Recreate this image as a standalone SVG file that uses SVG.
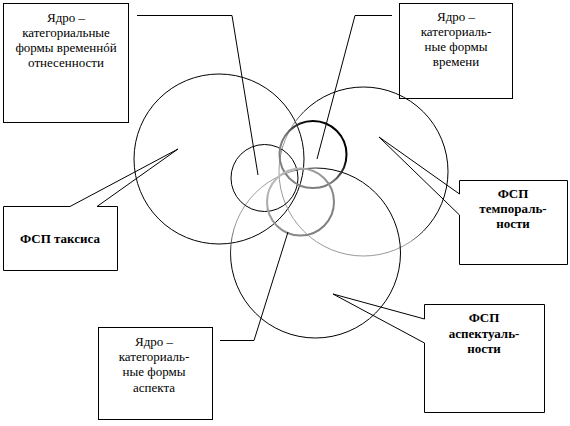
<svg xmlns="http://www.w3.org/2000/svg" width="570" height="426" viewBox="0 0 570 426">
<style>
.box{fill:none;stroke:#000;stroke-width:1}
.ln{fill:none;stroke:#000;stroke-width:1}
.t{font-family:'Liberation Serif','Times New Roman',serif;font-size:13px;text-anchor:middle;fill:#000}
.b{font-weight:bold}
</style>
<defs>
<linearGradient id="gTemp" x1="0" y1="1" x2="1" y2="0">
<stop offset="0" stop-color="#999"/><stop offset="0.42" stop-color="#999"/><stop offset="0.52" stop-color="#000"/><stop offset="1" stop-color="#000"/>
</linearGradient>
<linearGradient id="gAsp" x1="0" y1="0" x2="1" y2="1">
<stop offset="0" stop-color="#aaa"/><stop offset="0.18" stop-color="#999"/><stop offset="0.27" stop-color="#000"/><stop offset="1" stop-color="#000"/>
</linearGradient>
<linearGradient id="gTime" x1="0" y1="1" x2="1" y2="0">
<stop offset="0" stop-color="#888"/><stop offset="0.45" stop-color="#777"/><stop offset="0.7" stop-color="#000"/><stop offset="1" stop-color="#000"/>
</linearGradient>
<linearGradient id="gAspC" x1="0" y1="0" x2="1" y2="1">
<stop offset="0" stop-color="#ccc"/><stop offset="0.4" stop-color="#999"/><stop offset="1" stop-color="#777"/>
</linearGradient>
</defs>
<g id="circles">
<circle id="taxis-field" cx="219" cy="159" r="85" fill="none" stroke="#000" stroke-width="1"/>
<circle id="temporal-field" cx="363.5" cy="171.5" r="84.5" fill="none" stroke="url(#gTemp)" stroke-width="1"/>
<circle id="aspect-field" cx="315.5" cy="253" r="85" fill="none" stroke="url(#gAsp)" stroke-width="1"/>
<circle id="taxis-core" cx="264.5" cy="178" r="33.5" fill="none" stroke="#000" stroke-width="1"/>
<circle id="time-core" cx="313" cy="154.5" r="33.5" fill="none" stroke="url(#gTime)" stroke-width="2"/>
<circle id="aspect-core" cx="300.5" cy="202" r="33.5" fill="none" stroke="url(#gAspC)" stroke-width="2"/>
</g>
<g id="connectors">
<polyline class="ln" points="137,15.5 232,15.5 258,175"/>
<polyline class="ln" points="392,15.5 355,15.5 317,159"/>
<polyline class="ln" points="220,340.5 254,340.5 288,232"/>
</g>
<g id="node-core-relation">
<rect class="box" x="3.5" y="3.5" width="125" height="119"/>
<text class="t" x="66" y="22">Ядро –</text>
<text class="t" x="66" y="37">категориальные</text>
<text class="t" x="66" y="52">формы временнóй</text>
<text class="t" x="66" y="67">отнесенности</text>
</g>
<g id="node-core-time">
<rect class="box" x="399.5" y="3.5" width="113" height="95"/>
<text class="t" x="456" y="21">Ядро –</text>
<text class="t" x="456" y="36">категориаль-</text>
<text class="t" x="456" y="51">ные формы</text>
<text class="t" x="456" y="66">времени</text>
</g>
<g id="node-taxis">
<path class="box" d="M3.5,206.5 L70,206.5 L178,149 L97,206.5 L117.5,206.5 L117.5,270.5 L3.5,270.5 Z"/>
<text class="t b" x="60" y="243">ФСП таксиса</text>
</g>
<g id="node-temporality">
<path class="box" d="M459.5,180.5 L567.5,180.5 L567.5,264.5 L459.5,264.5 L459.5,215 L379,137 L459.5,194 Z"/>
<text class="t b" x="513" y="198">ФСП</text>
<text class="t b" x="513" y="213">темпораль-</text>
<text class="t b" x="513" y="228">ности</text>
</g>
<g id="node-aspectuality">
<path class="box" d="M424.5,304.5 L544.5,304.5 L544.5,412.5 L424.5,412.5 L424.5,343 L333,294 L424.5,319 Z"/>
<text class="t b" x="484" y="322">ФСП</text>
<text class="t b" x="484" y="338">аспектуаль-</text>
<text class="t b" x="484" y="353">ности</text>
</g>
<g id="node-core-aspect">
<rect class="box" x="98.5" y="327.5" width="114" height="92"/>
<text class="t" x="154" y="346">Ядро –</text>
<text class="t" x="154" y="361">категориаль-</text>
<text class="t" x="154" y="376">ные формы</text>
<text class="t" x="154" y="392">аспекта</text>
</g>
</svg>
